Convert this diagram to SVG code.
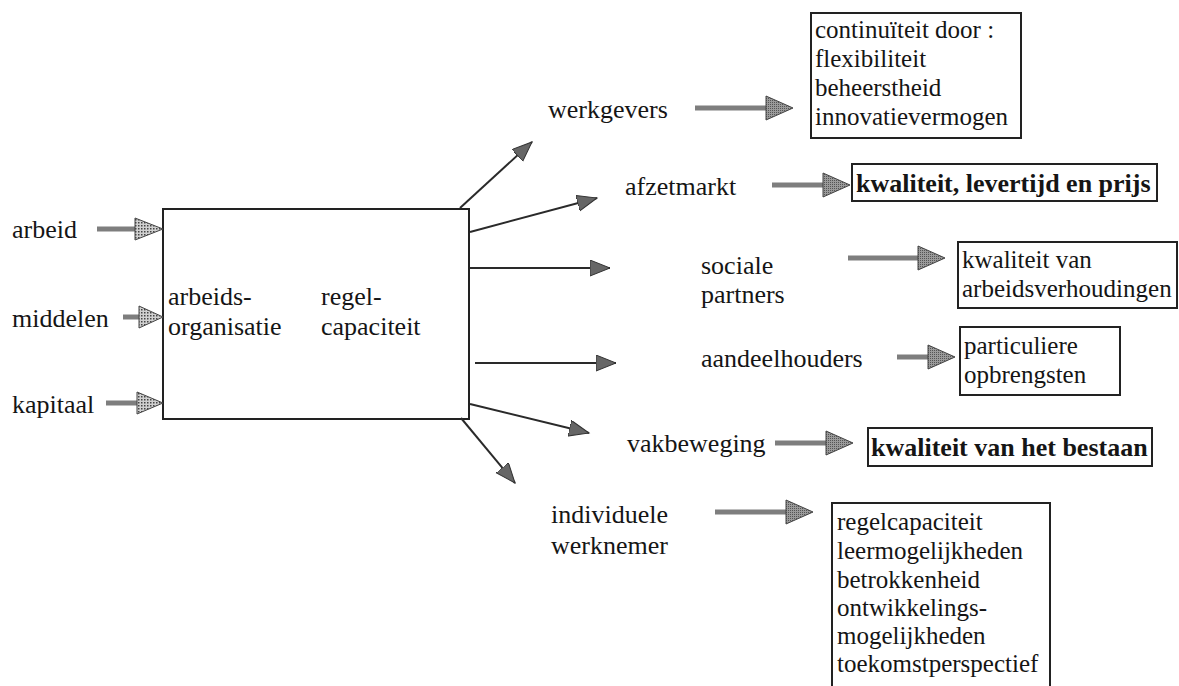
<svg xmlns="http://www.w3.org/2000/svg" width="1179" height="686" viewBox="0 0 1179 686">
<defs>
<pattern id="stip" width="3" height="3" patternUnits="userSpaceOnUse">
<rect width="3" height="3" fill="#d0d0d0"/>
<rect width="1.5" height="1.5" fill="#444"/>
</pattern>
<pattern id="stip2" width="2" height="2" patternUnits="userSpaceOnUse">
<rect width="2" height="2" fill="#9a9a9a"/>
<rect width="1" height="1" fill="#555"/>
</pattern>
<marker id="ah" markerUnits="userSpaceOnUse" markerWidth="22" markerHeight="18" refX="20" refY="8" orient="auto">
<path d="M0,0 L20,8 L0,16 Z" fill="#666" stroke="#333" stroke-width="1"/>
</marker>
</defs>
<rect width="1179" height="686" fill="#fff"/>

<g font-family="Liberation Serif, Times New Roman, serif" fill="#151515">
<g id="input-arbeid" font-size="26">
<text x="12" y="238">arbeid</text>
</g>
<g id="input-middelen" font-size="26">
<text x="12" y="327">middelen</text>
</g>
<g id="input-kapitaal" font-size="26">
<text x="12" y="413">kapitaal</text>
</g>

<g id="arbeidsorganisatie" font-size="26">
<rect x="163" y="209" width="306" height="210" fill="#fff" stroke="#222" stroke-width="2"/>
<text x="168" y="305">arbeids-</text>
<text x="168" y="335">organisatie</text>
<text x="321" y="305">regel-</text>
<text x="321" y="335">capaciteit</text>
</g>

<g id="werkgevers" font-size="26"><text x="548" y="118">werkgevers</text></g>
<g id="afzetmarkt" font-size="26"><text x="625" y="195">afzetmarkt</text></g>
<g id="sociale-partners" font-size="26"><text x="701" y="274">sociale</text><text x="701" y="303">partners</text></g>
<g id="aandeelhouders" font-size="26"><text x="701" y="367">aandeelhouders</text></g>
<g id="vakbeweging" font-size="26"><text x="627" y="452">vakbeweging</text></g>
<g id="individuele-werknemer" font-size="26"><text x="551" y="523">individuele</text><text x="551" y="554">werknemer</text></g>

<g id="box-continuiteit" font-size="25">
<rect x="811" y="13" width="210" height="125" fill="#fff" stroke="#222" stroke-width="2"/>
<text x="815" y="38">continu&#239;teit door :</text>
<text x="815" y="67">flexibiliteit</text>
<text x="815" y="96">beheerstheid</text>
<text x="815" y="125">innovatievermogen</text>
</g>
<g id="box-kwaliteit-levertijd" font-size="26" font-weight="bold">
<rect x="852" y="164" width="305" height="37" fill="#fff" stroke="#222" stroke-width="2"/>
<text x="856" y="192">kwaliteit, levertijd en prijs</text>
</g>
<g id="box-arbeidsverhoudingen" font-size="25">
<rect x="958" y="242" width="219" height="66" fill="#fff" stroke="#222" stroke-width="2"/>
<text x="962" y="268">kwaliteit van</text>
<text x="962" y="297">arbeidsverhoudingen</text>
</g>
<g id="box-opbrengsten" font-size="25">
<rect x="960" y="327" width="160" height="68" fill="#fff" stroke="#222" stroke-width="2"/>
<text x="964" y="354">particuliere</text>
<text x="964" y="383">opbrengsten</text>
</g>
<g id="box-bestaan" font-size="26" font-weight="bold">
<rect x="868" y="428" width="284" height="38" fill="#fff" stroke="#222" stroke-width="2"/>
<text x="871" y="456">kwaliteit van het bestaan</text>
</g>
<g id="box-werknemer" font-size="25">
<rect x="832" y="503" width="218" height="190" fill="#fff" stroke="#222" stroke-width="2"/>
<text x="837" y="530">regelcapaciteit</text>
<text x="837" y="559">leermogelijkheden</text>
<text x="837" y="588">betrokkenheid</text>
<text x="837" y="616">ontwikkelings-</text>
<text x="837" y="644">mogelijkheden</text>
<text x="837" y="672">toekomstperspectief</text>
</g>
</g>

<g id="connectors">
<g stroke="#7e7e7e" stroke-width="5" fill="none">
<line x1="97" y1="229" x2="137" y2="229"/>
<line x1="123" y1="317" x2="141" y2="317"/>
<line x1="106" y1="403" x2="139" y2="403"/>
<line x1="695" y1="108" x2="769" y2="108"/>
<line x1="772" y1="185" x2="826" y2="185"/>
<line x1="848" y1="258" x2="921" y2="258"/>
<line x1="897" y1="357" x2="931" y2="357"/>
<line x1="775" y1="443" x2="829" y2="443"/>
<line x1="715" y1="512" x2="789" y2="512"/>
</g>
<g fill="url(#stip)" stroke="#444" stroke-width="1">
<polygon points="135,218 163,229 135,240"/>
<polygon points="139,306 163,317 139,328"/>
<polygon points="137,392 163,403 137,414"/>
</g>
<g fill="url(#stip2)" stroke="#444" stroke-width="1">
<polygon points="766,96 793,108 766,120"/>
<polygon points="823,173 850,185 823,197"/>
<polygon points="918,246 945,258 918,270"/>
<polygon points="928,345 955,357 928,369"/>
<polygon points="826,431 853,443 826,455"/>
<polygon points="786,500 813,512 786,524"/>
</g>
<g stroke="#2a2a2a" stroke-width="2" fill="none" marker-end="url(#ah)">
<line x1="460" y1="208" x2="532" y2="142"/>
<line x1="470" y1="232" x2="597" y2="198"/>
<line x1="470" y1="268" x2="610" y2="268"/>
<line x1="475" y1="363" x2="616" y2="363"/>
<line x1="470" y1="404" x2="589" y2="433"/>
<line x1="461" y1="418" x2="515" y2="483"/>
</g>
</g>
</svg>
